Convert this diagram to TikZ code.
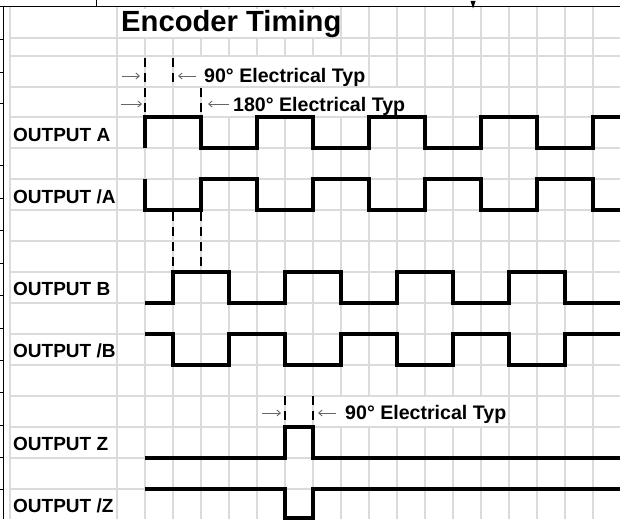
\documentclass[tikz,border=0pt]{standalone}
\usepackage{fontspec}
\setmainfont{Liberation Sans}
\usetikzlibrary{arrows.meta}

\begin{document}
\begin{tikzpicture}[x=1pt,y=-1pt]
\tikzset{
  gridline/.style={draw=black!14,line width=1.2pt},
  sheetline/.style={draw=black,line width=1pt},
  signal/.style={line width=3.8pt,line join=miter},
  guide/.style={line width=2.8pt,dash pattern=on 9pt off 6pt},
  pointer/.style={-{Straight Barb[length=3.5pt,width=6pt]},line width=0.9pt,draw=black!60},
  rowlabel/.style={anchor=base west,inner sep=0pt,font=\fontsize{19}{20}\selectfont\bfseries},
  note/.style={anchor=base west,inner sep=0pt,font=\fontsize{19.6}{20}\selectfont\bfseries}
}
\useasboundingbox[fill=white] (0,0) rectangle (620,519);
% sheet grid
\foreach \y in {38,56,87,117,148,179,210,241,272,303,334,365,396,427,458,489}
  \draw[gridline] (10,\y) -- (620,\y);
\draw[gridline] (10,7) -- (10,519);
\foreach \x in {117,145,...,593}
  \draw[gridline] (\x,7) -- (\x,519);
% cells covered by overflowing text
\fill[white] (140,8.6) rectangle (318,37.4);
\fill[white] (196,56.6) rectangle (346,86.4);
\fill[white] (224,87.6) rectangle (402,116.4);
\fill[white] (336,396.6) rectangle (486,426.4);
% sheet frame
\draw[sheetline] (0,7) -- (620,7);
\draw[sheetline] (3,7) -- (3,519);
\draw[sheetline] (96,0) -- (96,7);
\fill (470.5,1) -- (475.5,1) -- (473,8.5) -- cycle;
\foreach \y in {40,72,103,165,198,230,263,295,328,360,392,425,457,489}
  \draw[sheetline] (0,\y) -- (3,\y);

% texts
\node[anchor=base west,inner sep=0pt,font=\fontsize{29.2}{30}\selectfont\bfseries] (n_title) at (121,31.5) {Encoder Timing};
\node[rowlabel] (n_outA) at (13,141) {OUTPUT A};
\node[rowlabel] (n_outnA) at (13,203) {OUTPUT /A};
\node[rowlabel] (n_outB) at (13,295) {OUTPUT B};
\node[rowlabel] (n_outnB) at (13,357) {OUTPUT /B};
\node[rowlabel] (n_outZ) at (13,450) {OUTPUT Z};
\node[rowlabel] (n_outnZ) at (13,512) {OUTPUT /Z};
\node[note] (n_ab90) at (204,82) {90° Electrical Typ};
\node[note] (n_a180) at (233,111) {180° Electrical Typ};
\node[note] (n_z90) at (345,419) {90° Electrical Typ};

% waveforms
\draw[signal] (145,148) -- (145,117) -- (201,117) -- (201,148) -- (257,148) -- (257,117) -- (313,117) -- (313,148) -- (369,148) -- (369,117) -- (425,117) -- (425,148) -- (481,148) -- (481,117) -- (537,117) -- (537,148) -- (593,148) -- (593,117) -- (624,117);
\draw[signal] (145,179) -- (145,210) -- (201,210) -- (201,179) -- (257,179) -- (257,210) -- (313,210) -- (313,179) -- (369,179) -- (369,210) -- (425,210) -- (425,179) -- (481,179) -- (481,210) -- (537,210) -- (537,179) -- (593,179) -- (593,210) -- (624,210);
\draw[signal] (145,303) -- (173,303) -- (173,272) -- (229,272) -- (229,303) -- (285,303) -- (285,272) -- (341,272) -- (341,303) -- (397,303) -- (397,272) -- (453,272) -- (453,303) -- (509,303) -- (509,272) -- (565,272) -- (565,303) -- (624,303);
\draw[signal] (145,334) -- (173,334) -- (173,365) -- (229,365) -- (229,334) -- (285,334) -- (285,365) -- (341,365) -- (341,334) -- (397,334) -- (397,365) -- (453,365) -- (453,334) -- (509,334) -- (509,365) -- (565,365) -- (565,334) -- (624,334);
\draw[signal] (145,458) -- (285,458) -- (285,427) -- (313,427) -- (313,458) -- (624,458);
\draw[signal] (145,489) -- (285,489) -- (285,518) -- (313,518) -- (313,489) -- (624,489);

% phase guides
\draw[guide] (145,58) -- (145,117);
\draw[guide] (173,58) -- (173,87);
\draw[guide] (201,88) -- (201,117);
\draw[guide] (173,212) -- (173,272);
\draw[guide] (201,212) -- (201,272);
\draw[guide] (285,396) -- (285,427);
\draw[guide] (313,396) -- (313,427);

% pointers
\coordinate (p_a1) at (122,76);
\coordinate (q_a1) at (140,76);
\coordinate (p_b1) at (196,76);
\coordinate (q_b1) at (178,76);
\coordinate (p_a2) at (121,104);
\coordinate (q_a2) at (142,104);
\coordinate (p_b2) at (229,104);
\coordinate (q_b2) at (208,104);
\coordinate (p_z1) at (262,413);
\coordinate (q_z1) at (281,413);
\coordinate (p_z2) at (336,413);
\coordinate (q_z2) at (318,413);
\draw[pointer] (p_a1) -- (q_a1);
\draw[pointer] (p_b1) -- (q_b1);
\draw[pointer] (p_a2) -- (q_a2);
\draw[pointer] (p_b2) -- (q_b2);
\draw[pointer] (p_z1) -- (q_z1);
\draw[pointer] (p_z2) -- (q_z2);
\end{tikzpicture}
\end{document}
